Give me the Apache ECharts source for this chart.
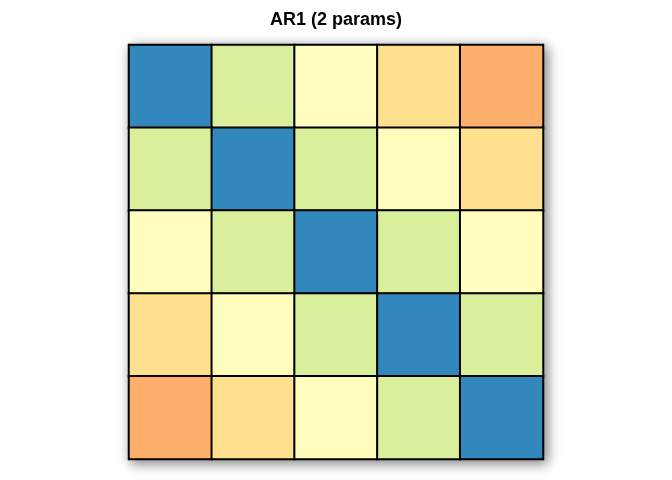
<!DOCTYPE html>
<html><head><meta charset="utf-8">
<script src="https://cdn.jsdelivr.net/npm/echarts@6/dist/echarts.min.js"></script>
<style>html,body{margin:0;padding:0;background:#fff}#c{width:672px;height:480px}</style>
</head><body><div id="c"></div>
<script>
var rows = ['1','2','3','4','5'];
var cols = ['1','2','3','4','5'];
// AR1 correlation matrix (rho^|i-j|)
var matrix = [
  [1.00, 0.60, 0.36, 0.22, 0.13],
  [0.60, 1.00, 0.60, 0.36, 0.22],
  [0.36, 0.60, 1.00, 0.60, 0.36],
  [0.22, 0.36, 0.60, 1.00, 0.60],
  [0.13, 0.22, 0.36, 0.60, 1.00]
];
var pieceBreaks = [0, 0.17, 0.3, 0.5, 0.8, 1.01];
var pieceColors = ['#FDAE6B', '#FEE08E', '#FEFDBE', '#D9EF9B', '#3288BD'];

var data = [];
for (var i = 0; i < rows.length; i++) for (var j = 0; j < cols.length; j++) data.push([j, i, matrix[i][j]]);
var pieces = [];
for (var k = 0; k < pieceColors.length; k++) pieces.push({gte: pieceBreaks[k], lt: pieceBreaks[k+1], color: pieceColors[k]});

var chart = echarts.init(document.getElementById('c'));
chart.setOption({
  animation: false,
  title: {text: 'AR1 (2 params)', left: 'center', top: 6,
    textStyle: {fontFamily: 'Liberation Sans', fontWeight: 'bold', fontSize: 18, color: '#000'}},
  grid: {left: 129, top: 45, width: 414, height: 414, show: true, backgroundColor: '#fff',
    borderColor: '#000', borderWidth: 2, shadowBlur: 12, shadowColor: 'rgba(0,0,0,0.5)', shadowOffsetX: 3, shadowOffsetY: 3},
  xAxis: {type: 'category', data: cols, show: false},
  yAxis: {type: 'category', data: rows, show: false, inverse: true},
  visualMap: {type: 'piecewise', show: false, dimension: 2, pieces: pieces},
  series: [{type: 'heatmap', data: data,
    itemStyle: {borderColor: '#000', borderWidth: 2},
    emphasis: {disabled: true}}]
});
</script></body></html>
